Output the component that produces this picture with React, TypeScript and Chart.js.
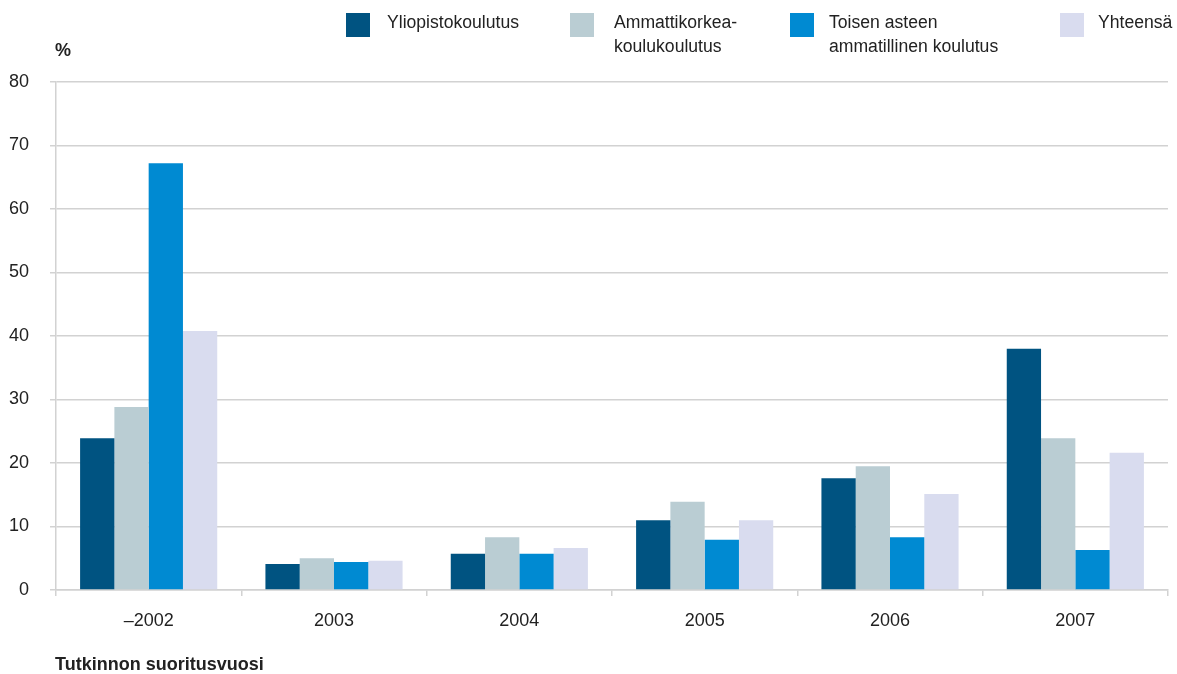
import React, { useEffect, useRef } from "react";
import { Chart, registerables } from "chart.js";

Chart.register(...registerables);

const categories = ["–2002", "2003", "2004", "2005", "2006", "2007"];
const seriesNames = [
  "Yliopistokoulutus",
  "Ammattikorkea-\nkoulukoulutus",
  "Toisen asteen\nammatillinen koulutus",
  "Yhteensä",
];
const yliopisto = [23.9, 4.1, 5.7, 11.0, 17.6, 38.0];
const amk = [28.8, 5.0, 8.3, 13.9, 19.5, 23.9];
const toinenAste = [67.2, 4.4, 5.7, 7.9, 8.3, 6.3];
const yhteensa = [40.8, 4.6, 6.6, 11.0, 15.1, 21.6];
const yMin = 0;
const yMax = 80;
const yStep = 10;
const yTitle = "%";
const xTitle = "Tutkinnon suoritusvuosi";

const colors = ["#005381", "#bacdd3", "#008ad2", "#d9dcef"];
const seriesValues = [yliopisto, amk, toinenAste, yhteensa];

const FONT = "'Liberation Sans', Arial, sans-serif";
const TEXT = "#222222";
const GRID = "#d2d2d2";

// legend layout: square left, text left
const legendPos = [
  { sq: 346, tx: 387 },
  { sq: 570, tx: 614 },
  { sq: 790, tx: 829 },
  { sq: 1060, tx: 1098 },
];

export default function App() {
  const canvasRef = useRef<HTMLCanvasElement | null>(null);

  useEffect(() => {
    document.body.style.margin = "0";
    const canvas = canvasRef.current;
    if (!canvas) return;
    const chart = new Chart(canvas, {
      type: "bar",
      data: {
        labels: categories,
        datasets: seriesValues.map((vals, i) => ({
          label: seriesNames[i].replace("\n", " "),
          data: vals,
          backgroundColor: colors[i],
          borderWidth: 0,
          categoryPercentage: 0.74,
          barPercentage: 1.0,
        })),
      },
      options: {
        animation: false,
        responsive: true,
        maintainAspectRatio: false,
        layout: { padding: { top: 82, right: 9, left: 0, bottom: 0 } },
        plugins: {
          legend: { display: false },
          tooltip: { enabled: false },
          title: { display: false },
        },
        scales: {
          x: {
            offset: true,
            grid: {
              offset: true,
              drawOnChartArea: false,
              drawTicks: true,
              tickLength: 6,
              color: GRID,
              lineWidth: 1.5,
            },
            border: { display: true, color: GRID, width: 1.5 },
            ticks: {
              color: TEXT,
              font: { family: FONT, size: 18 },
              padding: 14,
              maxRotation: 0,
            },
            afterFit: (s: any) => {
              s.height = 84;
            },
          },
          y: {
            min: yMin,
            max: yMax,
            ticks: {
              stepSize: yStep,
              color: TEXT,
              font: { family: FONT, size: 18 },
              padding: 21,
            },
            grid: {
              color: GRID,
              lineWidth: 1.5,
              drawTicks: true,
              tickLength: 6,
            },
            border: { display: true, color: GRID, width: 1.5 },
            afterFit: (s: any) => {
              s.width = 56;
            },
          },
        },
      },
    });
    return () => chart.destroy();
  }, []);

  return (
    <div
      style={{
        position: "fixed",
        left: 0,
        top: 0,
        width: 1177,
        height: 674,
        background: "#ffffff",
        fontFamily: FONT,
        color: TEXT,
        overflow: "hidden",
      }}
    >
      <canvas
        ref={canvasRef}
        style={{ position: "absolute", left: 0, top: 0, width: 1177, height: 674 }}
      />
      {seriesNames.map((name, i) => (
        <React.Fragment key={i}>
          <div
            style={{
              position: "absolute",
              left: legendPos[i].sq,
              top: 13,
              width: 24,
              height: 24,
              background: colors[i],
            }}
          />
          <div
            style={{
              position: "absolute",
              left: legendPos[i].tx,
              top: 10,
              fontSize: 17.6,
              lineHeight: "24px",
              whiteSpace: "pre",
            }}
          >
            {name}
          </div>
        </React.Fragment>
      ))}
      <div
        style={{
          position: "absolute",
          left: 55,
          top: 38,
          fontSize: 18,
          fontWeight: "bold",
          lineHeight: "24px",
        }}
      >
        {yTitle}
      </div>
      <div
        style={{
          position: "absolute",
          left: 55,
          top: 652,
          fontSize: 18,
          fontWeight: "bold",
          lineHeight: "24px",
          whiteSpace: "nowrap",
        }}
      >
        {xTitle}
      </div>
    </div>
  );
}
